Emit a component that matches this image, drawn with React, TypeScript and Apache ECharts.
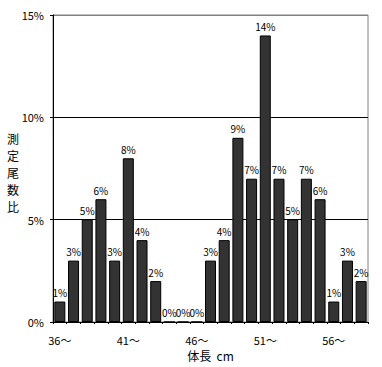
import React, { useEffect, useRef } from "react";
import * as echarts from "echarts";

const categories = ["36〜","37","38","39","40","41〜","42","43","44","45","46〜","47","48","49","50","51〜","52","53","54","55","56〜","57","58"];
const values = [1,3,5,6,3,8,4,2,0,0,0,3,4,9,7,14,7,5,7,6,1,3,2];
const yTicks = [0, 5, 10, 15];
const FONT = "'Noto Sans CJK JP', sans-serif";

export default function App() {
  const ref = useRef<HTMLDivElement>(null);
  useEffect(() => {
    const chart = echarts.init(ref.current!, null, { renderer: "svg" });
    chart.setOption({
      animation: false,
      backgroundColor: "#fff",
      grid: { left: 53, right: 14, top: 15, bottom: 45, show: true, borderColor: "#808080", borderWidth: 1 },
      xAxis: {
        type: "category",
        data: categories,
        name: "体長  cm",
        nameLocation: "middle",
        nameGap: 27,
        nameTextStyle: { fontFamily: FONT, fontSize: 12, color: "#000" },
        axisLine: { lineStyle: { color: "#000", width: 1 } },
        axisTick: { show: true, interval: 0, length: 2, lineStyle: { color: "#000" } },
        axisLabel: {
          interval: (i: number) => i % 5 === 0,
          formatter: (v: string) => (v.endsWith("〜") ? v : ""),
          fontFamily: FONT, fontSize: 11, color: "#000", margin: 12,
        },
      },
      yAxis: {
        type: "value",
        min: yTicks[0],
        max: yTicks[yTicks.length - 1],
        interval: 5,
        axisLine: { show: true, lineStyle: { color: "#000", width: 1 } },
        axisTick: { show: true, length: 3, lineStyle: { color: "#000" } },
        axisLabel: { formatter: "{value}%", fontFamily: FONT, fontSize: 11, color: "#000", margin: 9 },
        splitLine: { show: true, lineStyle: { color: ["#000", "#000", "#000", "#808080"], width: 1 } },
      },
      graphic: [
        {
          type: "text",
          left: 7,
          top: 130,
          style: {
            text: "測\n定\n尾\n数\n比",
            fontFamily: FONT,
            fontSize: 12,
            lineHeight: 17,
            fill: "#000",
          },
        },
      ],
      series: [
        {
          type: "bar",
          data: values,
          barWidth: 11,
          itemStyle: { color: "#333333", borderColor: "#000", borderWidth: 1 },
          label: {
            show: true,
            position: "top",
            distance: 4,
            formatter: "{c}%",
            fontFamily: FONT,
            fontSize: 10,
            color: "#000",
            textBorderWidth: 0,
          },
        },
      ],
    });
    return () => chart.dispose();
  }, []);
  return <div ref={ref} style={{ width: 382, height: 367, position: "absolute", left: 0, top: 0 }} />;
}
